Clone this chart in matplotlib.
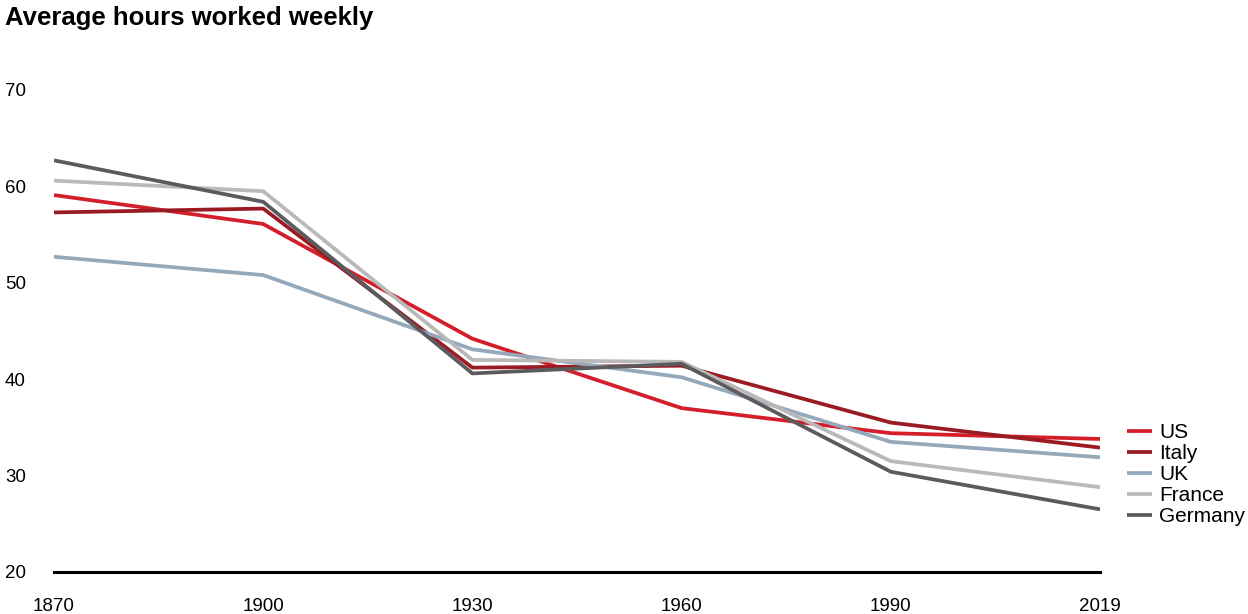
import matplotlib.pyplot as plt

plt.rcParams['font.family'] = ['Liberation Sans', 'DejaVu Sans']

# data
years = ['1870', '1900', '1930', '1960', '1990', '2019']
us = [59.1, 56.1, 44.2, 37.0, 34.4, 33.8]
italy = [57.3, 57.7, 41.2, 41.4, 35.5, 32.9]
uk = [52.7, 50.8, 43.1, 40.2, 33.5, 31.9]
france = [60.6, 59.5, 42.0, 41.8, 31.5, 28.8]
germany = [62.7, 58.4, 40.6, 41.6, 30.4, 26.5]

series = [
    ('US', us, '#d41f2b'),
    ('Italy', italy, '#9b1b23'),
    ('UK', uk, '#94a8ba'),
    ('France', france, '#b9b9b9'),
    ('Germany', germany, '#5b5b5d'),
]

fig = plt.figure(figsize=(12.48, 6.14), dpi=100)
ax = fig.add_axes([54 / 1248, 1 - 572 / 614, (1100 - 54) / 1248, (572 - 90) / 614])

x = list(range(len(years)))
for name, vals, col in series:
    ax.plot(x, vals, color=col, linewidth=2.7, label=name, solid_capstyle='butt')

ax.set_xlim(0, len(years) - 1)
ax.set_ylim(20, 70)
ax.set_yticks([20, 30, 40, 50, 60, 70])
ax.set_xticks(x)
ax.set_xticklabels(years)

for s in ['top', 'right', 'left']:
    ax.spines[s].set_visible(False)
ax.spines['bottom'].set_linewidth(2.2)
ax.spines['bottom'].set_color('black')
ax.tick_params(axis='both', length=0, labelsize=13.5)
ax.tick_params(axis='y', pad=0)
for lbl in ax.get_yticklabels():
    lbl.set_horizontalalignment('left')
    lbl.set_x(-49 / 1046)
ax.tick_params(axis='x', pad=19)

fig.text(5 / 1248, 1 - 18 / 614, 'Average hours worked weekly', fontsize=18.5,
         fontweight='bold', va='center', ha='left')

fig.legend(loc='upper left', bbox_to_anchor=(1127 / 1248, 1 - 423 / 614),
           frameon=False, fontsize=15, handlelength=1.2, handletextpad=0.35,
           labelspacing=0.1, borderaxespad=0, borderpad=0)

fig.savefig('out.png', dpi=100)
